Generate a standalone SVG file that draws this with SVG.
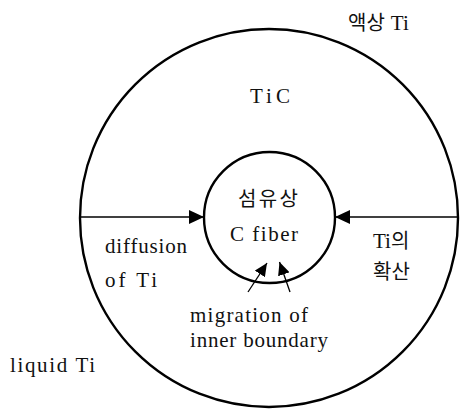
<svg xmlns="http://www.w3.org/2000/svg" width="460" height="409" viewBox="0 0 460 409">
  <defs>
    <style>
      .ring { fill: none; stroke: #000; stroke-width: 2.4; }
      .conn { fill: none; stroke: #000; stroke-width: 1.3; }
      .lat { font-family: 'Liberation Serif', 'Noto Sans CJK KR', serif; font-size: 21px; fill: #111; }
      .kr { font-family: 'Liberation Serif', 'Noto Sans CJK KR', serif; font-size: 20px; fill: #111; }
    </style>
    <marker id="ah" markerUnits="userSpaceOnUse" markerWidth="16" markerHeight="14" viewBox="0 0 16 14" refX="15" refY="7" orient="auto">
      <path d="M0,0 L15,7 L0,14 Z" fill="#000"/>
    </marker>
    <marker id="ahs" markerUnits="userSpaceOnUse" markerWidth="14" markerHeight="12" viewBox="0 0 14 12" refX="13" refY="6" orient="auto">
      <path d="M0,0 L13,6 L0,12 Z" fill="#000"/>
    </marker>
  </defs>
  <rect width="460" height="409" fill="#fff"/>

  <g id="liquid-ti">
    <circle class="ring" cx="269" cy="218" r="189"/>
    <text x="348" y="30"><tspan class="kr">액상</tspan><tspan class="lat" dx="6">Ti</tspan></text>
    <text class="lat" x="10" y="372" textLength="85" lengthAdjust="spacing">liquid Ti</text>
  </g>

  <g id="tic-layer">
    <text class="lat" x="250" y="103" textLength="40">TiC</text>
  </g>

  <g id="c-fiber">
    <circle class="ring" cx="269.5" cy="217.5" r="65.5"/>
    <text class="kr" x="238" y="206" textLength="60">섬유상</text>
    <text class="lat" x="230" y="241" textLength="68" lengthAdjust="spacing">C fiber</text>
  </g>

  <g id="connectors">
    <line class="conn" x1="80" y1="217" x2="204" y2="217" marker-end="url(#ah)"/>
    <line class="conn" x1="458" y1="217" x2="335" y2="217" marker-end="url(#ah)"/>
    <line class="conn" x1="248" y1="292" x2="267" y2="263" marker-end="url(#ahs)"/>
    <line class="conn" x1="290" y1="292" x2="279.5" y2="262" marker-end="url(#ahs)"/>
  </g>

  <g id="labels">
    <text class="lat" x="105" y="253" textLength="82" lengthAdjust="spacing">diffusion</text>
    <text class="lat" x="105" y="287" textLength="52" lengthAdjust="spacing">of Ti</text>
    <text x="373" y="248"><tspan class="lat">Ti</tspan><tspan class="kr">의</tspan></text>
    <text class="kr" x="373" y="279">확산</text>
    <text class="lat" x="190" y="322" textLength="118" lengthAdjust="spacing">migration of</text>
    <text class="lat" x="190" y="347" textLength="138" lengthAdjust="spacing">inner boundary</text>
  </g>
</svg>
